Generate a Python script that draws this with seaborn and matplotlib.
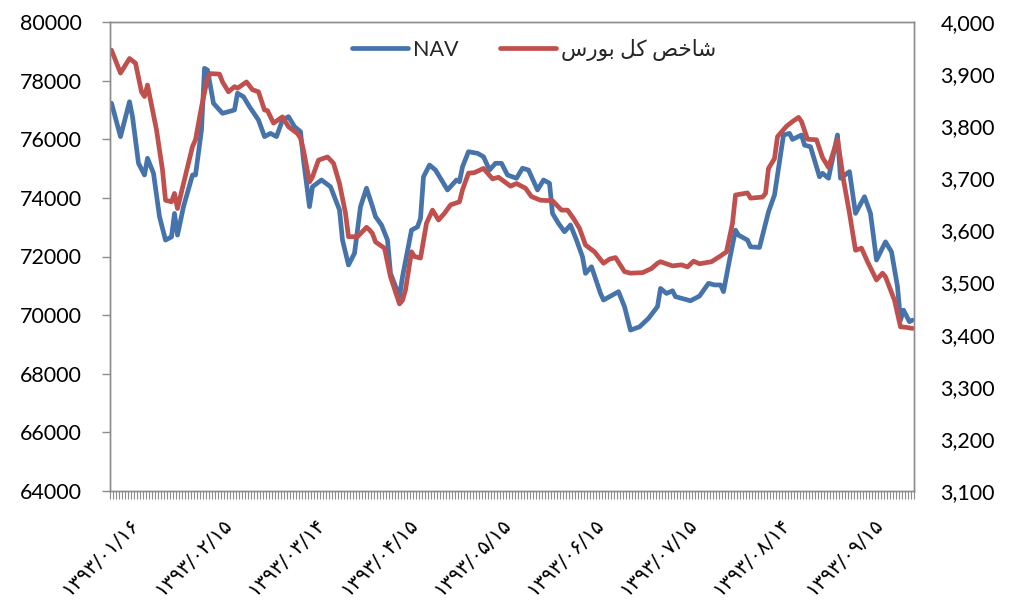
import numpy as np
import matplotlib
matplotlib.use('Agg')
import matplotlib.pyplot as plt
import matplotlib.transforms as mtransforms
from matplotlib.ticker import FixedLocator, FuncFormatter, MultipleLocator
import seaborn as sns

# category (trading day) position on the x axis and the values
nav_days = [0, 3, 6, 7, 9, 11, 12, 14, 16, 18, 20, 21, 22, 24, 27, 28, 30, 31, 32, 34,
            37, 39, 41, 42, 44, 46, 49, 51, 53, 55, 57, 59, 61, 63, 64, 66, 67, 70, 73, 76,
            77, 79, 81, 83, 85, 87, 88, 90, 92, 93, 96, 97, 100, 102, 103, 104, 106, 108, 110, 112,
            115, 116, 117, 119, 122, 124, 126, 128, 130, 132, 135, 137, 139, 142, 144, 146, 147, 149, 151, 153,
            155, 157, 158, 160, 163, 164, 166, 169, 171, 173, 176, 179, 182, 183, 185, 187, 188, 193, 196, 199,
            201, 203, 204, 206, 208, 209, 212, 213, 216, 219, 221, 224, 226, 227, 230, 231, 233, 236, 237, 239,
            242, 243, 246, 248, 251, 253, 255, 258, 260, 262, 263, 264, 266, 267]
nav_values = [77230, 76090, 77280, 76770, 75180, 74780, 75350, 74840, 73360, 72560, 72670, 73470, 72730, 73700, 74780, 74780, 76315, 78420, 78360, 77225,
              76885, 76940, 77000, 77570, 77450, 77110, 76655, 76090, 76200, 76090, 76655, 76770, 76430, 76260, 75290, 73700, 74380, 74610, 74380, 73590,
              72560, 71710, 72110, 73700, 74330, 73700, 73360, 73075, 72560, 71425, 70630, 71310, 72900, 73010, 73300, 74720, 75120, 74950, 74610, 74270,
              74610, 74550, 75060, 75575, 75520, 75405, 74950, 75180, 75180, 74780, 74670, 75010, 74950, 74270, 74610, 74500, 73470, 73130, 72845, 73075,
              72560, 71990, 71425, 71650, 70740, 70515, 70630, 70800, 70290, 69490, 69600, 69890, 70290, 70910, 70740, 70830, 70630, 70490, 70650, 71085,
              71030, 71030, 70800, 71880, 72900, 72730, 72560, 72330, 72310, 73525, 74100, 76145, 76200, 75995, 76145, 75800, 75745, 74720, 74840, 74670,
              76145, 74670, 74895, 73470, 74040, 73470, 71880, 72500, 72160, 70970, 69830, 70170, 69775, 69830]

index_days = [0, 3, 6, 8, 10, 11, 12, 13, 15, 17, 18, 20, 21, 22, 24, 27, 28, 30, 32, 33,
              36, 37, 39, 41, 42, 45, 47, 49, 51, 52, 54, 57, 59, 62, 63, 64, 66, 67, 69, 72,
              74, 76, 78, 79, 82, 85, 86, 87, 88, 91, 93, 96, 97, 98, 100, 101, 103, 105, 107, 109,
              111, 113, 116, 117, 119, 121, 124, 127, 129, 133, 135, 138, 140, 143, 147, 150, 152, 154, 156, 158,
              161, 164, 166, 168, 171, 173, 177, 180, 182, 183, 186, 187, 190, 192, 194, 196, 200, 203, 205, 207,
              208, 212, 213, 217, 218, 219, 221, 222, 225, 227, 229, 230, 232, 235, 237, 239, 242, 244, 246, 248,
              250, 252, 255, 257, 258, 261, 263, 265, 267]
index_values = [3946, 3902, 3930, 3921, 3866, 3857, 3879, 3850, 3793, 3716, 3658, 3655, 3671, 3642, 3690, 3761, 3774, 3837, 3892, 3901,
                3900, 3885, 3866, 3876, 3873, 3885, 3870, 3866, 3831, 3830, 3806, 3818, 3799, 3786, 3777, 3754, 3693, 3703, 3735, 3741,
                3729, 3690, 3633, 3588, 3588, 3606, 3601, 3594, 3578, 3566, 3511, 3459, 3466, 3486, 3559, 3550, 3547, 3614, 3639, 3620,
                3633, 3649, 3655, 3678, 3710, 3711, 3719, 3699, 3702, 3685, 3690, 3681, 3665, 3658, 3657, 3639, 3639, 3623, 3604, 3572,
                3559, 3537, 3545, 3548, 3521, 3518, 3519, 3527, 3537, 3540, 3534, 3532, 3534, 3530, 3541, 3536, 3540, 3551, 3559, 3614,
                3668, 3672, 3662, 3664, 3671, 3719, 3738, 3780, 3800, 3809, 3817, 3809, 3775, 3774, 3740, 3721, 3775, 3697, 3633, 3562,
                3566, 3540, 3505, 3518, 3511, 3466, 3415, 3414, 3412]

n_days = 268
label_days = [0, 31, 62, 93, 124, 155, 186, 217, 248]
date_labels = ['۱۳۹۳/۰۱/۱۶', '۱۳۹۳/۰۲/۱۵', '۱۳۹۳/۰۳/۱۴', '۱۳۹۳/۰۴/۱۵', '۱۳۹۳/۰۵/۱۵',
               '۱۳۹۳/۰۶/۱۵', '۱۳۹۳/۰۷/۱۵', '۱۳۹۳/۰۸/۱۴', '۱۳۹۳/۰۹/۱۵']

nav_label = 'NAV'
# "شاخص کل بورس" - matplotlib has no arabic shaping, so the joined forms are
# written out and put in visual (left-to-right) order
index_label = '\uFEB1\uFEAD\uFEEE\uFE91 \uFEDE\uFB90 \uFEBA\uFEA7\uFE8E\uFEB7'

blue = '#4674AA'
red = '#C0504D'
gray = '#8C8C8C'

sns.set_theme(style='white')
plt.rcParams['font.family'] = ['Lato', 'DejaVu Sans']

W, H = 1017, 611
fig = plt.figure(figsize=(W / 100, H / 100), dpi=100)
ax = fig.add_axes([110 / W, 1 - 491 / H, 804 / W, 469 / H])
ax2 = ax.twinx()

sns.lineplot(x=nav_days, y=nav_values, ax=ax, color=blue, linewidth=3.4, legend=False)
sns.lineplot(x=index_days, y=index_values, ax=ax2, color=red, linewidth=3.4, legend=False)

ax.set_xlim(-0.5, n_days - 0.5)
ax.set_ylim(64000, 80000)
ax.yaxis.set_major_locator(MultipleLocator(2000))
ax2.set_ylim(3100, 4000)
ax2.yaxis.set_major_locator(MultipleLocator(100))
ax2.yaxis.set_major_formatter(FuncFormatter(lambda v, p: f'{v:,.0f}'))

ax.set_xticks(label_days)
ax.set_xticklabels(date_labels, rotation=45, ha='right', va='center',
                   rotation_mode='anchor', family=['DejaVu Sans'], fontsize=14.5)
ax.xaxis.set_minor_locator(FixedLocator(np.arange(n_days + 1) - 0.5))
ax.tick_params(axis='x', which='major', length=0, pad=22, labelcolor='black')
ax.tick_params(axis='x', which='minor', bottom=True, length=6, width=0.8, color=gray)
ax.tick_params(axis='y', left=True, length=6, width=1, color=gray, pad=14,
               labelsize=15.5, labelcolor='black')
ax2.tick_params(axis='y', right=True, length=0, pad=19, labelsize=15.5, labelcolor='black')

shift = mtransforms.ScaledTranslation(24 / 100, 0, fig.dpi_scale_trans)
for lab in ax.get_xticklabels():
    lab.set_transform(lab.get_transform() + shift)

ax.set_xlabel('')
ax.set_ylabel('')
ax2.set_ylabel('')
for a in (ax, ax2):
    for sp in a.spines.values():
        sp.set_color(gray)
        sp.set_linewidth(1)

handles = [ax.lines[0], ax2.lines[0]]
fig.legend(handles, [nav_label, index_label], loc='center',
           bbox_to_anchor=(534 / W, 1 - 50 / H), ncol=2, frameon=False,
           fontsize=15.5, handlelength=2.6, handletextpad=0.25, columnspacing=1.9)

fig.savefig('out.png', dpi=100, facecolor='white')
